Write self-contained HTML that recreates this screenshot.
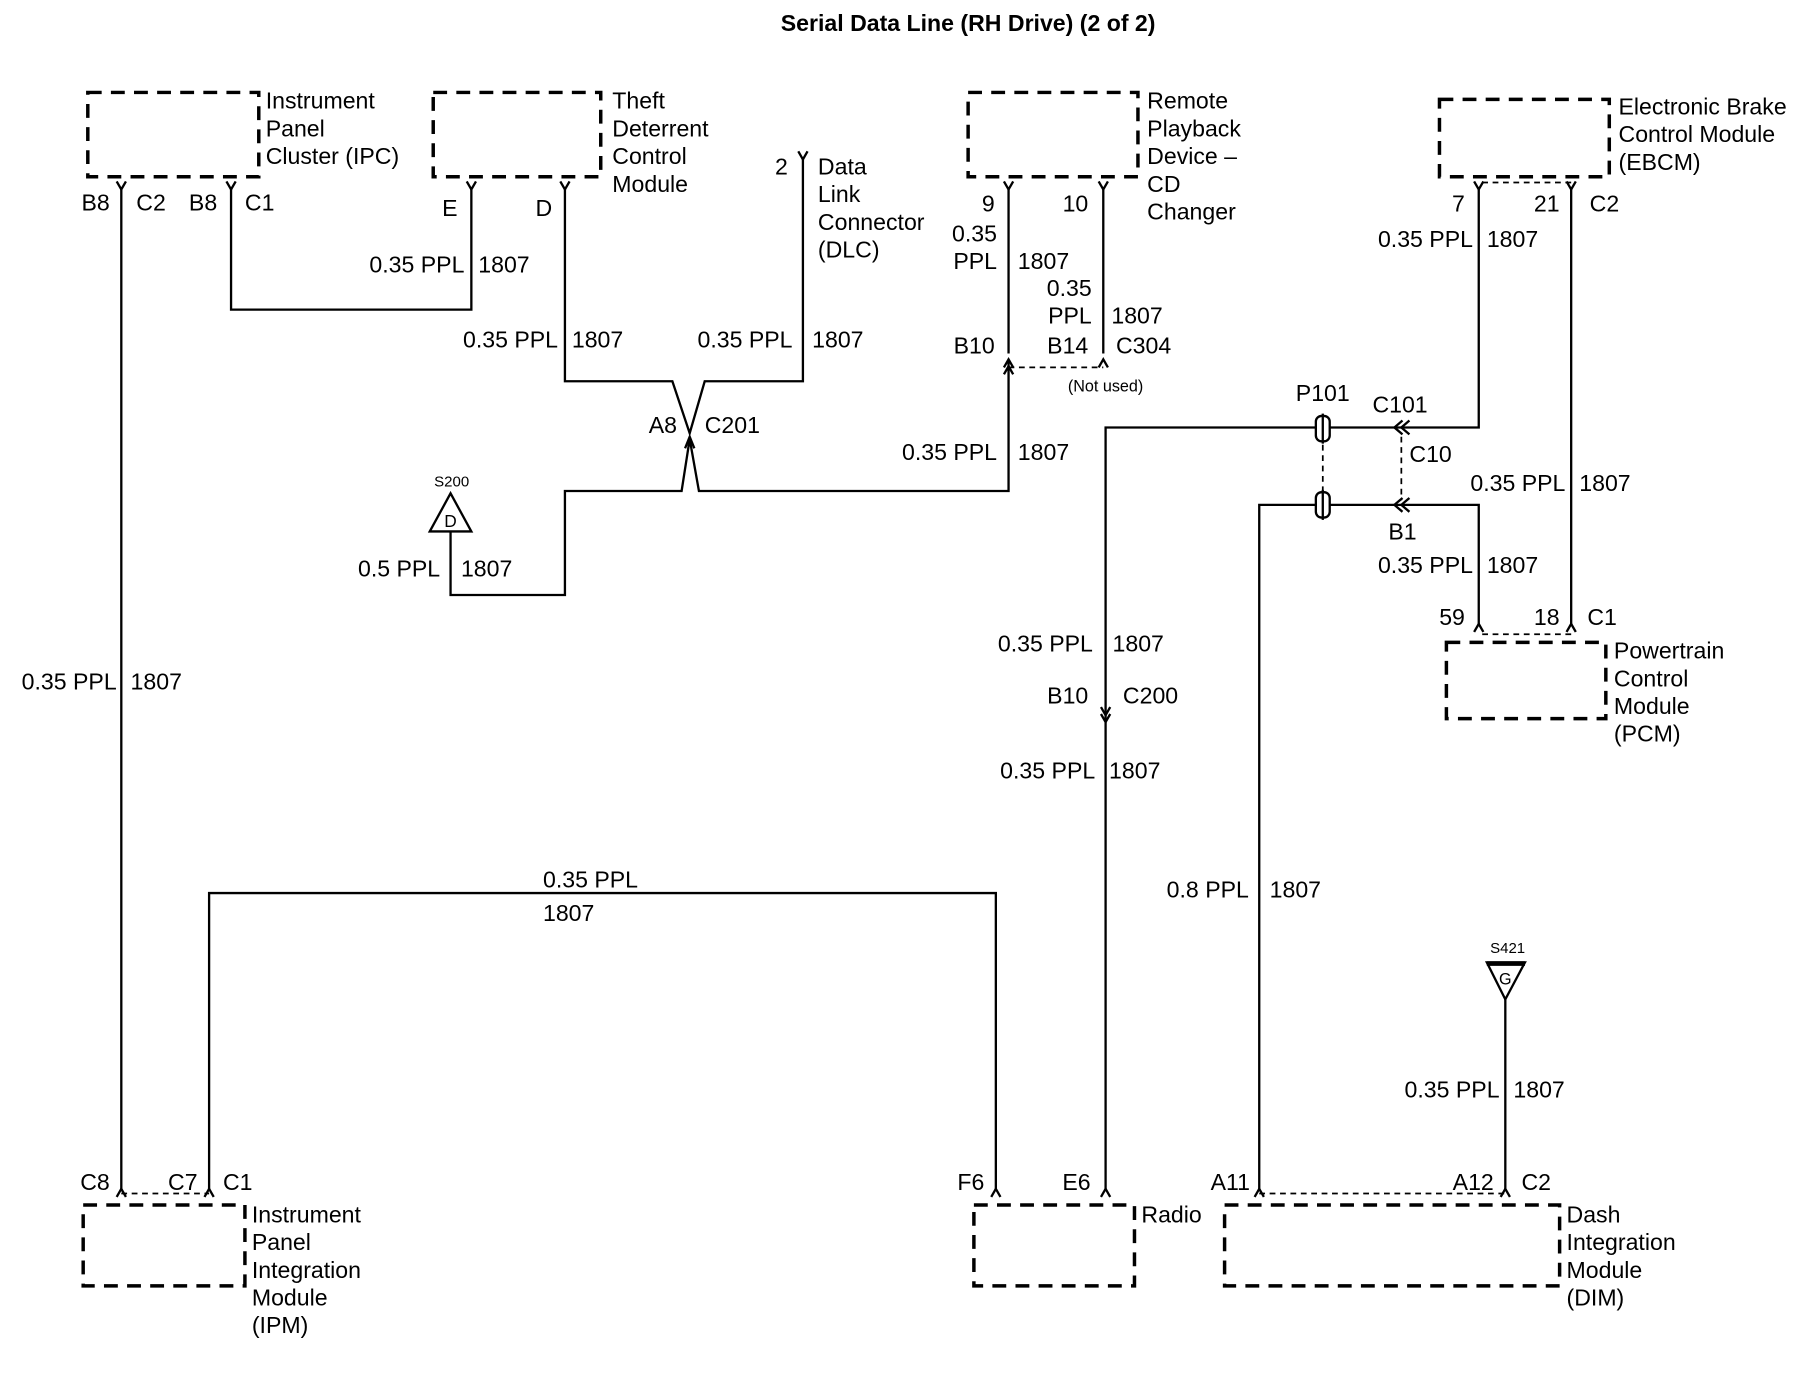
<!DOCTYPE html>
<html><head><meta charset="utf-8"><style>
html,body{margin:0;padding:0;background:#fff;}
svg{display:block;}
text{font-family:"Liberation Sans",sans-serif;font-size:20px;fill:#000;}
.e{text-anchor:end;}
.b{fill:none;stroke:#000;stroke-width:3;stroke-dasharray:12 8;}
.w{fill:none;stroke:#000;stroke-width:2;}
.d{fill:none;stroke:#000;stroke-width:1.5;stroke-dasharray:5 4;}
</style></head><body>
<svg width="1808" height="1376" viewBox="0 0 1565 1191" preserveAspectRatio="none" xmlns="http://www.w3.org/2000/svg">
<text x="838" y="27" style="font-weight:bold;text-anchor:middle;font-size:20px">Serial Data Line (RH Drive) (2 of 2)</text>

<!-- boxes -->
<rect class="b" x="76" y="80" width="148" height="73"/>
<rect class="b" x="375" y="80" width="145" height="73"/>
<rect class="b" x="838" y="80" width="147" height="73"/>
<rect class="b" x="1246" y="86" width="147" height="67"/>
<rect class="b" x="1252" y="556" width="138" height="66"/>
<rect class="b" x="72" y="1043" width="140" height="70"/>
<rect class="b" x="843" y="1043" width="139" height="70"/>
<rect class="b" x="1060" y="1043" width="290" height="70"/>

<!-- box labels -->
<text x="230" y="94">Instrument</text><text x="230" y="118">Panel</text><text x="230" y="142">Cluster (IPC)</text>
<text x="530" y="94">Theft</text><text x="530" y="118">Deterrent</text><text x="530" y="142">Control</text><text x="530" y="166">Module</text>
<text x="708" y="151">Data</text><text x="708" y="175">Link</text><text x="708" y="199">Connector</text><text x="708" y="223">(DLC)</text>
<text x="993" y="94">Remote</text><text x="993" y="118">Playback</text><text x="993" y="142">Device –</text><text x="993" y="166">CD</text><text x="993" y="190">Changer</text>
<text x="1401" y="99">Electronic Brake</text><text x="1401" y="123">Control Module</text><text x="1401" y="147">(EBCM)</text>
<text x="1397" y="570">Powertrain</text><text x="1397" y="594">Control</text><text x="1397" y="618">Module</text><text x="1397" y="642">(PCM)</text>
<text x="218" y="1058">Instrument</text><text x="218" y="1082">Panel</text><text x="218" y="1106">Integration</text><text x="218" y="1130">Module</text><text x="218" y="1154">(IPM)</text>
<text x="988" y="1058">Radio</text>
<text x="1356" y="1058">Dash</text><text x="1356" y="1082">Integration</text><text x="1356" y="1106">Module</text><text x="1356" y="1130">(DIM)</text>

<!-- wires -->
<path class="w" d="M105 162V1030"/>
<path class="w" d="M200 162V268H408V162"/>
<path class="w" d="M489 162V330H582L597 375L610 330H695V136"/>
<path class="w" d="M390 460V515H489V425H590L597 380L605 425H873V312"/>
<path class="w" d="M873 162V306"/>
<path class="w" d="M955 162V306"/>
<path class="d" d="M873 318H955"/>
<path class="w" d="M957 1030V370H1280V162"/>
<path class="w" d="M1090 1030V437H1280V540"/>
<path class="w" d="M1360 162V540"/>
<path class="w" d="M181 1030V773H862V1030"/>
<path class="w" d="M1303 865V1030"/>
<path class="d" d="M105 1033H181"/>
<path class="d" d="M1090 1033H1303"/>
<path class="d" d="M1283 158H1360"/>
<path class="d" d="M1283 549H1360"/>
<path class="d" d="M1145 385V425"/>
<path class="d" d="M1213 378V433"/>

<!-- connector glyphs top (Y) -->
<g class="w">
<path d="M101 157L105 164L109 157"/><path d="M196 157L200 164L204 157"/>
<path d="M404 157L408 164L412 157"/><path d="M485 157L489 164L493 157"/>
<path d="M691 131L695 138L699 131"/><path d="M869 157L873 164L877 157"/>
<path d="M951 157L955 164L959 157"/><path d="M1276 157L1280 164L1284 157"/>
<path d="M1356 157L1360 164L1364 157"/>
<!-- bottom ^ -->
<path d="M869 318L873 311L877 318M869 324L873 317L877 324"/>
<path d="M951 318L955 311L959 318"/>
<path d="M593 388L597 378L601 388"/>
<path d="M1276 547L1280 540L1284 547"/><path d="M1356 547L1360 540L1364 547"/>
<path d="M101 1036L105 1029L109 1036"/><path d="M177 1036L181 1029L185 1036"/>
<path d="M858 1036L862 1029L866 1036"/><path d="M953 1036L957 1029L961 1036"/>
<path d="M1086 1036L1090 1029L1094 1036"/><path d="M1299 1036L1303 1029L1307 1036"/>
<!-- C200 -->
<path d="M953 612L957 619L961 612M953 618L957 625L961 618"/>
<!-- C101 << -->
<path d="M1214 364L1207 370L1214 376M1220 364L1213 370L1220 376"/>
<path d="M1214 431L1207 437L1214 443M1220 431L1213 437L1220 443"/>
</g>
<!-- P101 -->
<rect x="1139" y="360" width="12" height="22" rx="5" fill="#fff" stroke="#000" stroke-width="2"/>
<path d="M1145 358V384" stroke="#000" stroke-width="2"/>
<rect x="1139" y="426" width="12" height="22" rx="5" fill="#fff" stroke="#000" stroke-width="2"/>
<path d="M1145 424V450" stroke="#000" stroke-width="2"/>

<!-- splice triangles -->
<path d="M372 460L390 427L408 460Z" fill="#fff" stroke="#000" stroke-width="2"/>
<text x="390" y="456" style="font-size:15px;text-anchor:middle">D</text>
<text x="391" y="421" style="font-size:13px;text-anchor:middle">S200</text>
<path d="M1287 833L1320 833L1303 865Z" fill="#fff" stroke="#000" stroke-width="2"/>
<path d="M1287 834H1320" stroke="#000" stroke-width="4"/>
<text x="1303" y="852" style="font-size:14px;text-anchor:middle">G</text>
<text x="1305" y="825" style="font-size:13px;text-anchor:middle">S421</text>

<!-- pin labels -->
<text x="95" y="182" class="e">B8</text><text x="118" y="182">C2</text>
<text x="188" y="182" class="e">B8</text><text x="212" y="182">C1</text>
<text x="396" y="187" class="e">E</text><text x="478" y="187" class="e">D</text>
<text x="682" y="151" class="e">2</text>
<text x="861" y="183" class="e">9</text><text x="942" y="183" class="e">10</text>
<text x="1268" y="183" class="e">7</text><text x="1350" y="183" class="e">21</text><text x="1376" y="183">C2</text>
<text x="1268" y="541" class="e">59</text><text x="1350" y="541" class="e">18</text><text x="1374" y="541">C1</text>
<text x="95" y="1030" class="e">C8</text><text x="171" y="1030" class="e">C7</text><text x="193" y="1030">C1</text>
<text x="852" y="1030" class="e">F6</text><text x="944" y="1030" class="e">E6</text>
<text x="1082" y="1030" class="e">A11</text><text x="1293" y="1030" class="e">A12</text><text x="1317" y="1030">C2</text>

<!-- wire labels -->
<text x="402" y="236" class="e">0.35 PPL</text><text x="414" y="236">1807</text>
<text x="483" y="301" class="e">0.35 PPL</text><text x="495" y="301">1807</text>
<text x="686" y="301" class="e">0.35 PPL</text><text x="703" y="301">1807</text>
<text x="586" y="375" class="e">A8</text><text x="610" y="375">C201</text>
<text x="381" y="499" class="e">0.5 PPL</text><text x="399" y="499">1807</text>
<text x="101" y="597" class="e">0.35 PPL</text><text x="113" y="597">1807</text>
<text x="863" y="209" class="e">0.35</text><text x="863" y="233" class="e">PPL</text><text x="881" y="233">1807</text>
<text x="945" y="256" class="e">0.35</text><text x="945" y="280" class="e">PPL</text><text x="962" y="280">1807</text>
<text x="861" y="306" class="e">B10</text><text x="942" y="306" class="e">B14</text><text x="966" y="306">C304</text>
<text x="957" y="339" style="font-size:14px;text-anchor:middle">(Not used)</text>
<text x="863" y="398" class="e">0.35 PPL</text><text x="881" y="398">1807</text>
<text x="1145" y="347" style="text-anchor:middle">P101</text><text x="1188" y="357">C101</text>
<text x="1220" y="400">C10</text>
<text x="1214" y="467" style="text-anchor:middle">B1</text>
<text x="1275" y="214" class="e">0.35 PPL</text><text x="1287" y="214">1807</text>
<text x="1355" y="425" class="e">0.35 PPL</text><text x="1367" y="425">1807</text>
<text x="1275" y="496" class="e">0.35 PPL</text><text x="1287" y="496">1807</text>
<text x="946" y="564" class="e">0.35 PPL</text><text x="963" y="564">1807</text>
<text x="942" y="609" class="e">B10</text><text x="972" y="609">C200</text>
<text x="948" y="674" class="e">0.35 PPL</text><text x="960" y="674">1807</text>
<text x="470" y="768">0.35 PPL</text><text x="470" y="797">1807</text>
<text x="1081" y="777" class="e">0.8 PPL</text><text x="1099" y="777">1807</text>
<text x="1298" y="950" class="e">0.35 PPL</text><text x="1310" y="950">1807</text>
</svg>
</body></html>
